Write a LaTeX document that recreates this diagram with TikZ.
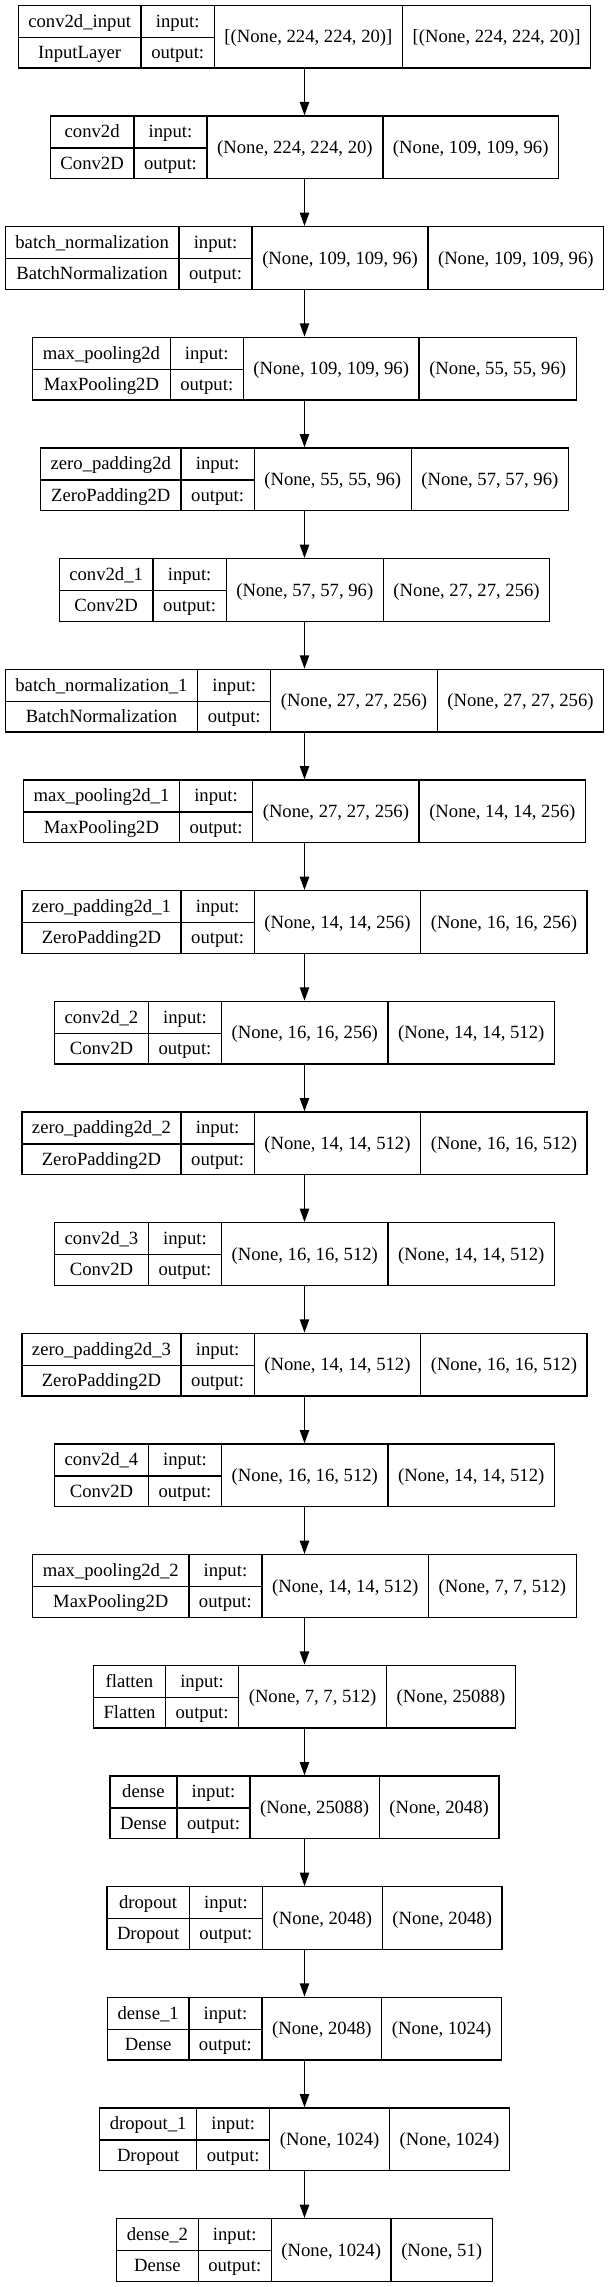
\documentclass[tikz,border=0pt]{standalone}
\usepackage{fontspec}
\setmainfont{Liberation Serif}
\usepackage{tikz}
\usetikzlibrary{arrows.meta, positioning}

\setlength{\tabcolsep}{7.6pt}
\setlength{\arrayrulewidth}{1pt}
\newcommand{\shapecell}[1]{\raisebox{-11.75pt}[0pt][0pt]{#1}}
\newcommand{\layertab}[4]{%
  \begin{tabular}{c|c|c|c}
    #1 & input: & \shapecell{#3} & \shapecell{#4}\\ \cline{1-2}
    #2 & output: & & 
  \end{tabular}}

\begin{document}
\begin{tikzpicture}[node distance=35pt]
        \tikzstyle{layer} = [draw, line width=1pt, inner sep=0pt, font=\fontsize{14}{23.5}\selectfont]
        \tikzstyle{arrow} = [-{Triangle[length=10pt, width=7pt]}, line width=1pt]

        \useasboundingbox (-228.375pt, 27.5pt) rectangle (228.375pt, -1687.75pt);

        % Nodes
        \node (input) [layer] at (0,0) {\layertab{conv2d\_input}{InputLayer}{[(None, 224, 224, 20)]}{[(None, 224, 224, 20)]}};
        \node (conv) [layer, below=of input] {\layertab{conv2d}{Conv2D}{(None, 224, 224, 20)}{(None, 109, 109, 96)}};
        \node (bn) [layer, below=of conv] {\layertab{batch\_normalization}{BatchNormalization}{(None, 109, 109, 96)}{(None, 109, 109, 96)}};
        \node (pool) [layer, below=of bn] {\layertab{max\_pooling2d}{MaxPooling2D}{(None, 109, 109, 96)}{(None, 55, 55, 96)}};
        \node (pad) [layer, below=of pool] {\layertab{zero\_padding2d}{ZeroPadding2D}{(None, 55, 55, 96)}{(None, 57, 57, 96)}};
        \node (convb) [layer, below=of pad] {\layertab{conv2d\_1}{Conv2D}{(None, 57, 57, 96)}{(None, 27, 27, 256)}};
        \node (bnb) [layer, below=of convb] {\layertab{batch\_normalization\_1}{BatchNormalization}{(None, 27, 27, 256)}{(None, 27, 27, 256)}};
        \node (poolb) [layer, below=of bnb] {\layertab{max\_pooling2d\_1}{MaxPooling2D}{(None, 27, 27, 256)}{(None, 14, 14, 256)}};
        \node (padb) [layer, below=of poolb] {\layertab{zero\_padding2d\_1}{ZeroPadding2D}{(None, 14, 14, 256)}{(None, 16, 16, 256)}};
        \node (convc) [layer, below=of padb] {\layertab{conv2d\_2}{Conv2D}{(None, 16, 16, 256)}{(None, 14, 14, 512)}};
        \node (padc) [layer, below=of convc] {\layertab{zero\_padding2d\_2}{ZeroPadding2D}{(None, 14, 14, 512)}{(None, 16, 16, 512)}};
        \node (convd) [layer, below=of padc] {\layertab{conv2d\_3}{Conv2D}{(None, 16, 16, 512)}{(None, 14, 14, 512)}};
        \node (padd) [layer, below=of convd] {\layertab{zero\_padding2d\_3}{ZeroPadding2D}{(None, 14, 14, 512)}{(None, 16, 16, 512)}};
        \node (conve) [layer, below=of padd] {\layertab{conv2d\_4}{Conv2D}{(None, 16, 16, 512)}{(None, 14, 14, 512)}};
        \node (poolc) [layer, below=of conve] {\layertab{max\_pooling2d\_2}{MaxPooling2D}{(None, 14, 14, 512)}{(None, 7, 7, 512)}};
        \node (flat) [layer, below=of poolc] {\layertab{flatten}{Flatten}{(None, 7, 7, 512)}{(None, 25088)}};
        \node (dense) [layer, below=of flat] {\layertab{dense}{Dense}{(None, 25088)}{(None, 2048)}};
        \node (drop) [layer, below=of dense] {\layertab{dropout}{Dropout}{(None, 2048)}{(None, 2048)}};
        \node (denseb) [layer, below=of drop] {\layertab{dense\_1}{Dense}{(None, 2048)}{(None, 1024)}};
        \node (dropb) [layer, below=of denseb] {\layertab{dropout\_1}{Dropout}{(None, 1024)}{(None, 1024)}};
        \node (densec) [layer, below=of dropb] {\layertab{dense\_2}{Dense}{(None, 1024)}{(None, 51)}};

        % Arrows
        \draw [arrow] (input) -- (conv);
        \draw [arrow] (conv) -- (bn);
        \draw [arrow] (bn) -- (pool);
        \draw [arrow] (pool) -- (pad);
        \draw [arrow] (pad) -- (convb);
        \draw [arrow] (convb) -- (bnb);
        \draw [arrow] (bnb) -- (poolb);
        \draw [arrow] (poolb) -- (padb);
        \draw [arrow] (padb) -- (convc);
        \draw [arrow] (convc) -- (padc);
        \draw [arrow] (padc) -- (convd);
        \draw [arrow] (convd) -- (padd);
        \draw [arrow] (padd) -- (conve);
        \draw [arrow] (conve) -- (poolc);
        \draw [arrow] (poolc) -- (flat);
        \draw [arrow] (flat) -- (dense);
        \draw [arrow] (dense) -- (drop);
        \draw [arrow] (drop) -- (denseb);
        \draw [arrow] (denseb) -- (dropb);
        \draw [arrow] (dropb) -- (densec);
    \end{tikzpicture}
\end{document}
